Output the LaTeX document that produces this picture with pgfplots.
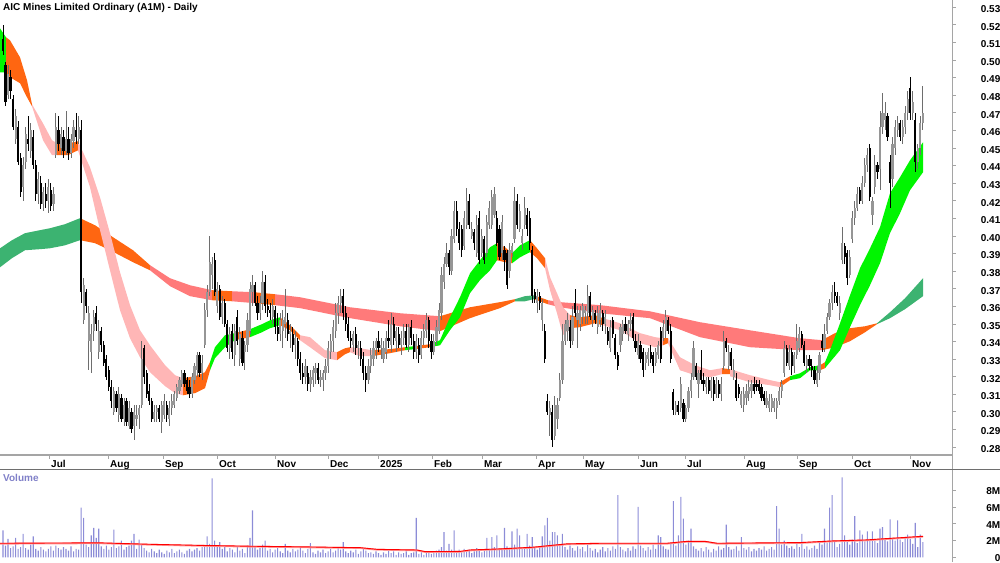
\documentclass[border=0pt]{standalone}
\usepackage{fontspec}
\setmainfont{Liberation Sans}
\usepackage{pgfplots}
\usepackage{pgfplotstable}
\pgfplotsset{compat=1.18}
\definecolor{cLG}{RGB}{60,179,113}
\definecolor{cSG}{RGB}{0,245,0}
\definecolor{cOR}{RGB}{255,102,17}
\definecolor{cPK}{RGB}{255,182,182}
\definecolor{cSA}{RGB}{255,122,122}
\definecolor{upbody}{RGB}{150,150,150}
\definecolor{upwick}{RGB}{110,110,110}
\definecolor{volc}{RGB}{140,140,215}
\definecolor{axc}{RGB}{165,165,165}
\definecolor{vlab}{RGB}{128,128,200}

\pgfplotstableread{
o h l c v
0.512 0.520 0.503 0.505 3.2
0.497 0.499 0.474 0.476 1.4
0.480 0.497 0.478 0.492 2.2
0.490 0.494 0.478 0.482 1.1
0.478 0.480 0.460 0.462 1.3
0.455 0.472 0.452 0.468 2.3
0.462 0.465 0.440 0.442 1.0
0.444 0.447 0.422 0.425 1.2
0.428 0.445 0.420 0.440 2.8
0.442 0.462 0.438 0.458 1.1
0.455 0.468 0.448 0.452 0.9
0.448 0.464 0.444 0.460 1.5
0.456 0.460 0.438 0.440 2.5
0.440 0.443 0.420 0.424 1.0
0.424 0.436 0.418 0.432 0.8
0.430 0.434 0.415 0.418 1.2
0.418 0.428 0.414 0.425 0.9
0.424 0.430 0.416 0.420 0.7
0.420 0.432 0.413 0.428 1.0
0.426 0.430 0.414 0.417 1.3
0.418 0.428 0.414 0.424 0.8
0.446 0.470 0.444 0.462 1.4
0.460 0.468 0.448 0.452 1.1
0.450 0.462 0.446 0.458 0.9
0.456 0.460 0.444 0.448 1.2
0.448 0.471 0.446 0.455 1.0
0.455 0.462 0.443 0.447 0.8
0.447 0.458 0.444 0.455 1.3
0.454 0.466 0.450 0.462 0.7
0.460 0.470 0.452 0.456 1.0
0.455 0.468 0.452 0.462 0.9
0.460 0.466 0.362 0.368 5.9
0.352 0.376 0.350 0.372 4.7
0.368 0.370 0.356 0.360 1.5
0.340 0.360 0.324 0.356 1.2
0.334 0.350 0.322 0.344 2.6
0.346 0.358 0.340 0.354 3.5
0.356 0.360 0.346 0.350 2.3
0.334 0.352 0.330 0.346 3.4
0.346 0.348 0.334 0.338 1.3
0.338 0.340 0.326 0.328 1.0
0.330 0.332 0.318 0.320 1.4
0.324 0.326 0.312 0.314 0.9
0.314 0.318 0.302 0.306 1.2
0.300 0.314 0.298 0.312 3.3
0.310 0.312 0.300 0.302 1.1
0.298 0.314 0.294 0.310 1.3
0.308 0.310 0.294 0.296 2.0
0.296 0.308 0.292 0.304 0.9
0.306 0.308 0.292 0.294 1.2
0.292 0.306 0.290 0.302 1.4
0.300 0.302 0.288 0.290 2.0
0.292 0.304 0.284 0.300 2.8
0.296 0.304 0.292 0.298 1.0
0.298 0.304 0.290 0.302 2.1
0.304 0.340 0.302 0.330 1.5
0.336 0.338 0.316 0.320 1.1
0.322 0.324 0.308 0.310 0.8
0.312 0.316 0.304 0.306 0.6
0.306 0.308 0.294 0.296 1.0
0.296 0.304 0.294 0.300 0.7
0.300 0.304 0.294 0.302 0.5
0.302 0.304 0.294 0.296 0.9
0.294 0.306 0.288 0.304 0.6
0.298 0.310 0.296 0.306 0.4
0.304 0.306 0.294 0.298 0.8
0.296 0.306 0.292 0.302 0.6
0.302 0.310 0.298 0.306 1.0
0.304 0.312 0.302 0.310 0.5
0.308 0.316 0.306 0.314 0.7
0.312 0.320 0.310 0.318 0.9
0.316 0.324 0.314 0.322 0.6
0.322 0.324 0.314 0.316 0.4
0.318 0.320 0.310 0.312 0.8
0.314 0.318 0.308 0.310 1.0
0.310 0.322 0.308 0.320 0.7
0.318 0.328 0.316 0.326 0.9
0.324 0.334 0.320 0.332 1.1
0.332 0.334 0.320 0.322 0.8
0.322 0.332 0.318 0.328 1.2
0.338 0.362 0.336 0.358 1.3
0.358 0.372 0.354 0.368 2.5
0.368 0.400 0.366 0.385 1.6
0.378 0.388 0.370 0.384 9.4
0.386 0.390 0.366 0.368 2.0
0.360 0.374 0.356 0.370 1.4
0.370 0.372 0.352 0.354 1.8
0.354 0.366 0.350 0.362 1.0
0.362 0.364 0.348 0.350 1.3
0.350 0.352 0.334 0.336 0.7
0.336 0.348 0.330 0.344 1.1
0.346 0.350 0.330 0.334 0.9
0.332 0.350 0.326 0.346 0.6
0.354 0.358 0.338 0.340 1.2
0.330 0.348 0.326 0.344 0.8
0.342 0.346 0.326 0.328 1.0
0.334 0.340 0.324 0.338 0.5
0.338 0.356 0.334 0.352 1.4
0.346 0.374 0.344 0.370 2.3
0.368 0.378 0.360 0.372 5.6
0.372 0.374 0.360 0.362 1.2
0.362 0.366 0.352 0.356 0.9
0.356 0.366 0.352 0.362 1.1
0.362 0.380 0.358 0.374 1.5
0.374 0.378 0.356 0.360 2.0
0.360 0.364 0.354 0.358 0.8
0.358 0.362 0.352 0.356 1.0
0.354 0.364 0.350 0.360 0.6
0.358 0.360 0.344 0.348 0.9
0.348 0.356 0.340 0.344 1.1
0.344 0.356 0.340 0.352 0.7
0.346 0.358 0.336 0.352 0.5
0.350 0.370 0.342 0.354 1.6
0.352 0.356 0.340 0.344 0.8
0.344 0.350 0.336 0.346 0.6
0.344 0.348 0.334 0.338 1.0
0.338 0.346 0.330 0.342 0.7
0.340 0.342 0.326 0.330 0.9
0.330 0.334 0.318 0.322 1.2
0.322 0.328 0.316 0.320 0.8
0.320 0.330 0.316 0.326 0.5
0.322 0.326 0.312 0.316 1.0
0.316 0.324 0.311 0.320 1.7
0.318 0.326 0.314 0.324 0.6
0.322 0.328 0.316 0.325 0.4
0.325 0.328 0.316 0.318 0.8
0.318 0.324 0.314 0.320 0.6
0.318 0.324 0.312 0.322 0.9
0.322 0.330 0.318 0.326 0.5
0.326 0.340 0.322 0.336 0.7
0.334 0.344 0.330 0.340 1.0
0.340 0.352 0.334 0.348 0.6
0.346 0.362 0.342 0.356 0.8
0.356 0.366 0.350 0.362 1.1
0.362 0.370 0.356 0.366 0.9
0.366 0.370 0.352 0.356 1.8
0.356 0.360 0.346 0.350 0.7
0.350 0.354 0.340 0.342 0.5
0.342 0.346 0.336 0.340 0.8
0.338 0.346 0.334 0.344 0.6
0.344 0.348 0.332 0.336 0.9
0.336 0.340 0.330 0.338 0.4
0.336 0.340 0.326 0.330 0.7
0.330 0.334 0.318 0.322 1.0
0.322 0.326 0.311 0.318 0.8
0.318 0.330 0.316 0.326 0.5
0.326 0.336 0.322 0.332 0.6
0.330 0.340 0.326 0.336 0.4
0.336 0.342 0.330 0.340 0.7
0.340 0.346 0.334 0.336 0.5
0.336 0.342 0.330 0.338 0.3
0.330 0.340 0.328 0.336 0.6
0.334 0.346 0.330 0.342 0.4
0.342 0.352 0.336 0.340 0.8
0.338 0.356 0.334 0.350 0.5
0.350 0.354 0.338 0.342 0.7
0.340 0.348 0.334 0.346 0.3
0.344 0.348 0.336 0.338 0.6
0.338 0.346 0.332 0.342 0.4
0.342 0.350 0.338 0.346 0.5
0.346 0.350 0.336 0.338 0.7
0.338 0.350 0.334 0.348 0.3
0.348 0.352 0.338 0.342 0.5
0.340 0.344 0.330 0.334 0.6
0.334 0.344 0.330 0.340 4.7
0.338 0.342 0.328 0.332 0.4
0.332 0.346 0.330 0.342 0.6
0.342 0.350 0.338 0.346 0.3
0.346 0.356 0.342 0.352 0.5
0.352 0.354 0.336 0.340 0.7
0.340 0.344 0.330 0.334 0.4
0.334 0.344 0.332 0.340 0.6
0.340 0.352 0.338 0.348 0.8
0.346 0.362 0.344 0.358 0.9
0.356 0.382 0.352 0.378 1.2
0.374 0.388 0.370 0.384 3.0
0.384 0.396 0.382 0.390 0.8
0.390 0.392 0.378 0.382 1.6
0.380 0.404 0.378 0.400 0.9
0.398 0.420 0.396 0.414 3.2
0.414 0.420 0.400 0.404 0.7
0.404 0.408 0.392 0.396 0.9
0.404 0.406 0.388 0.392 0.6
0.394 0.414 0.392 0.410 1.0
0.406 0.427 0.404 0.420 0.8
0.420 0.424 0.404 0.406 0.9
0.400 0.408 0.398 0.404 0.5
0.402 0.404 0.392 0.396 0.7
0.390 0.412 0.388 0.406 1.1
0.410 0.414 0.384 0.386 0.9
0.390 0.404 0.388 0.400 0.6
0.398 0.400 0.384 0.386 0.8
0.390 0.412 0.388 0.408 2.3
0.406 0.420 0.404 0.416 1.0
0.406 0.426 0.404 0.422 2.4
0.412 0.428 0.410 0.424 1.2
0.410 0.414 0.394 0.396 2.6
0.404 0.406 0.386 0.388 0.9
0.390 0.412 0.386 0.408 1.1
0.392 0.394 0.380 0.386 3.5
0.390 0.392 0.370 0.372 1.3
0.380 0.396 0.376 0.392 1.0
0.390 0.396 0.388 0.394 3.1
0.398 0.428 0.396 0.420 1.5
0.420 0.424 0.404 0.406 3.4
0.404 0.418 0.402 0.414 2.6
0.396 0.404 0.392 0.400 1.2
0.406 0.422 0.404 0.416 1.0
0.412 0.416 0.400 0.404 2.8
0.410 0.414 0.392 0.396 1.4
0.392 0.394 0.362 0.366 2.4
0.368 0.370 0.362 0.364 1.1
0.362 0.370 0.356 0.366 0.9
0.366 0.368 0.358 0.362 1.3
0.352 0.364 0.346 0.362 2.5
0.346 0.350 0.328 0.330 3.8
0.306 0.310 0.298 0.300 4.7
0.298 0.306 0.286 0.302 2.0
0.300 0.304 0.280 0.284 3.0
0.286 0.309 0.284 0.304 3.0
0.296 0.308 0.290 0.304 2.6
0.308 0.322 0.306 0.318 1.5
0.318 0.350 0.316 0.340 2.8
0.340 0.352 0.338 0.350 1.2
0.346 0.356 0.340 0.352 0.9
0.348 0.352 0.336 0.340 1.4
0.340 0.360 0.338 0.354 1.1
0.362 0.370 0.354 0.356 0.8
0.352 0.360 0.336 0.356 1.3
0.350 0.360 0.346 0.358 1.0
0.354 0.362 0.350 0.360 1.2
0.356 0.360 0.350 0.358 0.7
0.356 0.372 0.350 0.366 1.5
0.366 0.368 0.352 0.354 1.1
0.352 0.360 0.348 0.358 0.8
0.356 0.358 0.350 0.352 1.0
0.348 0.360 0.344 0.356 0.6
0.352 0.362 0.348 0.358 0.9
0.356 0.358 0.346 0.350 1.2
0.350 0.358 0.344 0.354 0.7
0.346 0.348 0.338 0.340 1.1
0.336 0.352 0.334 0.348 0.8
0.352 0.354 0.342 0.344 1.3
0.342 0.344 0.330 0.332 1.0
0.332 0.334 0.324 0.326 7.4
0.338 0.350 0.334 0.348 1.2
0.344 0.352 0.340 0.350 0.9
0.350 0.354 0.344 0.346 0.7
0.344 0.352 0.340 0.350 1.1
0.350 0.356 0.346 0.352 0.8
0.354 0.356 0.340 0.342 1.3
0.340 0.344 0.334 0.336 1.0
0.332 0.344 0.330 0.340 6.0
0.338 0.340 0.328 0.330 1.4
0.334 0.336 0.320 0.324 1.1
0.328 0.334 0.324 0.332 0.8
0.330 0.336 0.326 0.334 1.2
0.334 0.338 0.328 0.330 0.9
0.332 0.334 0.322 0.326 1.5
0.328 0.336 0.326 0.334 1.0
0.332 0.340 0.330 0.338 2.6
0.346 0.348 0.328 0.330 2.4
0.342 0.352 0.340 0.348 1.3
0.346 0.358 0.342 0.354 1.0
0.352 0.354 0.344 0.346 0.9
0.346 0.350 0.328 0.330 1.6
0.311 0.313 0.298 0.301 6.7
0.300 0.306 0.298 0.304 1.4
0.304 0.306 0.298 0.300 2.6
0.302 0.320 0.300 0.316 7.2
0.305 0.307 0.294 0.296 4.6
0.296 0.304 0.294 0.302 1.5
0.302 0.314 0.300 0.312 2.0
0.312 0.322 0.308 0.318 3.4
0.320 0.340 0.318 0.336 1.3
0.326 0.328 0.318 0.320 1.0
0.316 0.324 0.308 0.322 0.8
0.324 0.335 0.316 0.318 1.1
0.318 0.322 0.312 0.316 0.7
0.314 0.320 0.310 0.318 1.2
0.318 0.320 0.310 0.312 0.9
0.312 0.320 0.308 0.318 0.6
0.318 0.320 0.306 0.310 1.0
0.310 0.320 0.308 0.316 0.8
0.316 0.318 0.308 0.310 1.3
0.310 0.320 0.306 0.316 0.9
0.326 0.346 0.324 0.340 1.1
0.340 0.342 0.334 0.336 3.9
0.326 0.338 0.324 0.334 1.2
0.334 0.336 0.324 0.326 0.9
0.320 0.330 0.318 0.324 1.0
0.318 0.322 0.306 0.308 1.3
0.314 0.316 0.308 0.310 0.8
0.304 0.312 0.302 0.310 2.4
0.304 0.314 0.300 0.310 1.1
0.308 0.316 0.304 0.312 0.9
0.310 0.318 0.306 0.314 1.2
0.312 0.318 0.308 0.316 0.7
0.316 0.320 0.310 0.312 1.0
0.316 0.318 0.312 0.314 0.8
0.316 0.318 0.310 0.312 1.1
0.314 0.316 0.306 0.308 0.9
0.310 0.312 0.304 0.306 1.3
0.304 0.312 0.302 0.308 0.8
0.302 0.310 0.300 0.306 1.0
0.302 0.310 0.300 0.308 1.2
0.302 0.308 0.300 0.306 0.9
0.302 0.308 0.296 0.306 6.1
0.306 0.314 0.304 0.312 3.4
0.312 0.318 0.308 0.316 1.5
0.322 0.340 0.320 0.336 2.0
0.336 0.338 0.326 0.328 1.4
0.326 0.338 0.324 0.334 1.1
0.334 0.336 0.321 0.326 1.3
0.326 0.334 0.322 0.332 1.0
0.332 0.350 0.330 0.340 1.6
0.336 0.348 0.334 0.344 1.2
0.344 0.346 0.336 0.338 2.8
0.338 0.340 0.326 0.328 1.0
0.326 0.332 0.322 0.330 1.3
0.330 0.332 0.324 0.326 0.9
0.326 0.330 0.320 0.324 1.1
0.324 0.326 0.316 0.318 1.4
0.316 0.326 0.314 0.322 1.0
0.322 0.334 0.318 0.332 1.8
0.340 0.344 0.334 0.336 1.5
0.336 0.350 0.334 0.344 3.4
0.346 0.356 0.344 0.354 1.7
0.354 0.364 0.352 0.362 5.9
0.362 0.372 0.358 0.368 7.4
0.368 0.374 0.362 0.366 1.9
0.366 0.368 0.360 0.362 1.2
0.356 0.366 0.352 0.362 1.6
0.386 0.405 0.384 0.396 9.5
0.394 0.396 0.384 0.388 2.6
0.390 0.392 0.372 0.376 1.8
0.378 0.392 0.376 0.388 1.5
0.398 0.414 0.396 0.410 2.1
0.410 0.420 0.406 0.416 4.9
0.416 0.428 0.414 0.424 1.7
0.426 0.428 0.418 0.420 3.2
0.420 0.434 0.418 0.430 2.7
0.430 0.444 0.428 0.440 1.9
0.440 0.450 0.436 0.446 3.1
0.450 0.452 0.420 0.422 2.2
0.412 0.422 0.406 0.420 3.1
0.428 0.446 0.424 0.440 2.0
0.440 0.442 0.432 0.436 1.7
0.438 0.471 0.426 0.462 3.4
0.462 0.481 0.458 0.470 3.6
0.466 0.476 0.460 0.470 2.2
0.468 0.470 0.454 0.456 1.9
0.442 0.446 0.416 0.430 4.5
0.432 0.456 0.428 0.452 2.3
0.450 0.466 0.446 0.462 2.0
0.460 0.468 0.456 0.464 4.4
0.464 0.466 0.454 0.456 2.1
0.456 0.466 0.452 0.462 1.8
0.462 0.474 0.458 0.470 2.4
0.470 0.482 0.466 0.478 2.7
0.484 0.490 0.466 0.470 2.2
0.470 0.482 0.466 0.476 1.6
0.466 0.470 0.436 0.442 4.1
0.442 0.452 0.438 0.450 1.2
0.450 0.468 0.446 0.464 2.7
0.464 0.485 0.460 0.470 1.8
}\pricedata

\pgfplotsset{
  candle/.style n args={2}{draw=none, mark=none, forget plot, restrict y to domain=0:1,
    error bars/.cd, y dir=both, y explicit, error mark=none,
    error bar style={line width=#1, draw=#2, solid}},
}

\begin{document}
\begin{tikzpicture}
\useasboundingbox (0pt,0pt) rectangle (1000pt,-562pt);
\begin{axis}[
  at={(0pt,0pt)}, anchor=north west,
  scale only axis, width=952pt, height=455pt,
  xmin=0, xmax=952, ymin=0.27545, ymax=0.53398,
  axis x line*=bottom, axis y line*=right,
  x axis line style={draw=axc, line width=1.6pt},
  y axis line style={draw=axc, line width=0.8pt},
  tick align=outside, major tick length=3.5pt,
  tick style={draw=axc, line width=0.6pt},
  xtick={49,108,163,217,275,328,378,432,482,536,583,638,685,744,797,852,910},
  xticklabels={Jul,Aug,Sep,Oct,Nov,Dec,2025,Feb,Mar,Apr,May,Jun,Jul,Aug,Sep,Oct,Nov},
  ytick={0.28,0.29,0.30,0.31,0.32,0.33,0.34,0.35,0.36,0.37,0.38,0.39,0.40,0.41,0.42,0.43,0.44,0.45,0.46,0.47,0.48,0.49,0.50,0.51,0.52,0.53},
  yticklabels={0.28,0.29,0.30,0.31,0.32,0.33,0.34,0.35,0.36,0.37,0.38,0.39,0.40,0.41,0.42,0.43,0.44,0.45,0.46,0.47,0.48,0.49,0.50,0.51,0.52,0.53},
  tick label style={font=\bfseries\fontsize{10}{12}\selectfont, text=black, inner sep=0pt},
  yticklabel style={anchor=east, xshift=45pt, yshift=-2pt},
  xticklabel style={anchor=north west, xshift=2pt, yshift=-2pt},
  clip=true,
]
% long ribbon
\addplot[draw=none, fill=cLG] coordinates {(0,0.3929) (12,0.3975) (25,0.4015) (40,0.4032) (50,0.4043) (65,0.4066) (80,0.4100) (80,0.3975) (65,0.3946) (50,0.3929) (40,0.3924) (25,0.3918) (12,0.3873) (0,0.3821)} --cycle;
\addplot[draw=none, fill=cOR] coordinates {(80,0.4100) (95,0.4060) (110,0.4003) (133,0.3918) (150,0.3833) (150,0.3804) (133,0.3850) (110,0.3918) (95,0.3958) (80,0.3975)} --cycle;
\addplot[draw=none, fill=cSA] coordinates {(150,0.3833) (170,0.3759) (190,0.3719) (212,0.3691) (212,0.3634) (190,0.3657) (170,0.3714) (150,0.3804)} --cycle;
\addplot[draw=none, fill=cOR] coordinates {(212,0.3691) (232,0.3685) (232,0.3628) (212,0.3634)} --cycle;
\addplot[draw=none, fill=cSA] coordinates {(232,0.3685) (255,0.3679) (255,0.3617) (232,0.3628)} --cycle;
\addplot[draw=none, fill=cOR] coordinates {(255,0.3679) (275,0.3668) (275,0.3606) (255,0.3617)} --cycle;
\addplot[draw=none, fill=cSA] coordinates {(275,0.3668) (300,0.3651) (350,0.3594) (400,0.3560) (440,0.3543) (440,0.3458) (400,0.3486) (350,0.3532) (300,0.3589) (275,0.3606)} --cycle;
\addplot[draw=none, fill=cOR] coordinates {(440,0.3543) (470,0.3594) (500,0.3623) (515,0.3640) (515,0.3628) (500,0.3589) (470,0.3532) (440,0.3458)} --cycle;
\addplot[draw=none, fill=cLG] coordinates {(515,0.3640) (525,0.3657) (534,0.3662) (534,0.3640) (525,0.3628) (515,0.3628)} --cycle;
\addplot[draw=none, fill=cOR] coordinates {(534,0.3662) (548,0.3634) (548,0.3611) (534,0.3640)} --cycle;
\addplot[draw=none, fill=cSA] coordinates {(548,0.3634) (560,0.3623) (600,0.3606) (650,0.3571) (700,0.3509) (750,0.3463) (800,0.3418) (822,0.3407) (822,0.3350) (800,0.3350) (750,0.3367) (700,0.3424) (650,0.3532) (600,0.3560) (560,0.3594) (548,0.3611)} --cycle;
\addplot[draw=none, fill=cOR] coordinates {(822,0.3407) (835,0.3447) (850,0.3475) (865,0.3486) (877,0.3503) (877,0.3498) (865,0.3452) (850,0.3401) (835,0.3367) (822,0.3350)} --cycle;
\addplot[draw=none, fill=cLG] coordinates {(877,0.3503) (890,0.3566) (905,0.3645) (923,0.3759) (923,0.3657) (905,0.3583) (890,0.3532) (877,0.3498)} --cycle;
% short ribbon
\addplot[draw=none, fill=cSG] coordinates {(0,0.5179) (6,0.5128) (6,0.4929) (0,0.4929)} --cycle;
\addplot[draw=none, fill=cOR] coordinates {(6,0.5128) (10,0.5111) (20,0.5014) (27,0.4884) (32,0.4747) (32,0.4736) (27,0.4787) (20,0.4867) (10,0.4901) (6,0.4929)} --cycle;
\addplot[draw=none, fill=cPK] coordinates {(32,0.4747) (43,0.4639) (52,0.4543) (57,0.4526) (57,0.4458) (52,0.4458) (43,0.4543) (32,0.4736)} --cycle;
\addplot[draw=none, fill=cOR] coordinates {(57,0.4526) (68,0.4526) (78,0.4537) (78,0.4486) (68,0.4458) (57,0.4458)} --cycle;
\addplot[draw=none, fill=cPK] coordinates {(78,0.4537) (90,0.4389) (100,0.4219) (110,0.4015) (120,0.3793) (130,0.3606) (140,0.3464) (150,0.3378) (165,0.3265) (175,0.3208) (183,0.3191) (183,0.3094) (175,0.3106) (165,0.3146) (150,0.3225) (140,0.3310) (130,0.3418) (120,0.3577) (110,0.3804) (100,0.4032) (90,0.4276) (78,0.4486)} --cycle;
\addplot[draw=none, fill=cOR] coordinates {(183,0.3191) (195,0.3202) (205,0.3225) (210,0.3282) (210,0.3236) (205,0.3134) (195,0.3106) (183,0.3094)} --cycle;
\addplot[draw=none, fill=cSG] coordinates {(210,0.3282) (215,0.3367) (225,0.3435) (235,0.3447) (235,0.3407) (225,0.3367) (215,0.3305) (210,0.3236)} --cycle;
\addplot[draw=none, fill=cOR] coordinates {(235,0.3447) (250,0.3469) (250,0.3424) (235,0.3407)} --cycle;
\addplot[draw=none, fill=cSG] coordinates {(250,0.3469) (262,0.3498) (270,0.3520) (280,0.3537) (280,0.3492) (270,0.3475) (262,0.3452) (250,0.3424)} --cycle;
\addplot[draw=none, fill=cOR] coordinates {(280,0.3537) (290,0.3492) (300,0.3435) (300,0.3407) (290,0.3464) (280,0.3492)} --cycle;
\addplot[draw=none, fill=cPK] coordinates {(300,0.3435) (310,0.3424) (325,0.3350) (337,0.3339) (337,0.3293) (325,0.3305) (310,0.3367) (300,0.3407)} --cycle;
\addplot[draw=none, fill=cOR] coordinates {(337,0.3339) (345,0.3361) (350,0.3367) (350,0.3339) (345,0.3327) (337,0.3293)} --cycle;
\addplot[draw=none, fill=cPK] coordinates {(350,0.3367) (360,0.3361) (372,0.3350) (372,0.3316) (360,0.3316) (350,0.3339)} --cycle;
\addplot[draw=none, fill=cOR] coordinates {(372,0.3350) (390,0.3356) (405,0.3367) (405,0.3350) (390,0.3333) (372,0.3316)} --cycle;
\addplot[draw=none, fill=cSG] coordinates {(405,0.3367) (415,0.3373) (415,0.3356) (405,0.3350)} --cycle;
\addplot[draw=none, fill=cOR] coordinates {(415,0.3373) (430,0.3384) (430,0.3367) (415,0.3356)} --cycle;
\addplot[draw=none, fill=cSG] coordinates {(430,0.3384) (440,0.3407) (450,0.3537) (460,0.3651) (470,0.3787) (480,0.3861) (490,0.3935) (497,0.3958) (497,0.3861) (490,0.3804) (480,0.3748) (470,0.3674) (460,0.3537) (450,0.3464) (440,0.3378) (430,0.3367)} --cycle;
\addplot[draw=none, fill=cOR] coordinates {(497,0.3958) (505,0.3935) (512,0.3901) (512,0.3844) (505,0.3850) (497,0.3861)} --cycle;
\addplot[draw=none, fill=cSG] coordinates {(512,0.3901) (520,0.3946) (530,0.3975) (530,0.3907) (520,0.3878) (512,0.3844)} --cycle;
\addplot[draw=none, fill=cOR] coordinates {(530,0.3975) (537,0.3929) (545,0.3873) (545,0.3816) (537,0.3873) (530,0.3907)} --cycle;
\addplot[draw=none, fill=cPK] coordinates {(545,0.3873) (550,0.3765) (557,0.3674) (563,0.3594) (570,0.3549) (570,0.3475) (563,0.3435) (557,0.3560) (550,0.3691) (545,0.3816)} --cycle;
\addplot[draw=none, fill=cOR] coordinates {(570,0.3549) (580,0.3537) (595,0.3549) (603,0.3532) (603,0.3492) (595,0.3503) (580,0.3481) (570,0.3475)} --cycle;
\addplot[draw=none, fill=cPK] coordinates {(603,0.3532) (620,0.3503) (640,0.3447) (655,0.3424) (663,0.3418) (663,0.3378) (655,0.3367) (640,0.3390) (620,0.3464) (603,0.3492)} --cycle;
\addplot[draw=none, fill=cOR] coordinates {(663,0.3418) (668,0.3418) (668,0.3390) (663,0.3378)} --cycle;
\addplot[draw=none, fill=cPK] coordinates {(668,0.3418) (680,0.3310) (695,0.3265) (710,0.3236) (722,0.3248) (722,0.3214) (710,0.3197) (695,0.3208) (680,0.3236) (668,0.3390)} --cycle;
\addplot[draw=none, fill=cOR] coordinates {(722,0.3248) (730,0.3242) (730,0.3214) (722,0.3214)} --cycle;
\addplot[draw=none, fill=cPK] coordinates {(730,0.3242) (750,0.3208) (770,0.3180) (780,0.3168) (780,0.3140) (770,0.3151) (750,0.3168) (730,0.3202)} --cycle;
\addplot[draw=none, fill=cOR] coordinates {(780,0.3168) (790,0.3202) (790,0.3180) (780,0.3140)} --cycle;
\addplot[draw=none, fill=cSG] coordinates {(790,0.3202) (800,0.3219) (810,0.3253) (820,0.3265) (820,0.3236) (810,0.3236) (800,0.3191) (790,0.3180)} --cycle;
\addplot[draw=none, fill=cOR] coordinates {(820,0.3265) (825,0.3282) (825,0.3248) (820,0.3236)} --cycle;
\addplot[draw=none, fill=cSG] coordinates {(825,0.3282) (830,0.3350) (840,0.3503) (850,0.3662) (860,0.3816) (870,0.3929) (880,0.4049) (890,0.4242) (900,0.4333) (910,0.4429) (923,0.4531) (923,0.4361) (910,0.4259) (900,0.4128) (890,0.4015) (880,0.3844) (870,0.3719) (860,0.3606) (850,0.3481) (840,0.3350) (830,0.3282) (825,0.3248)} --cycle;
% candles: wicks
\addplot[candle={0.9pt}{upwick}]
  table[x expr=3+2.52*\coordindex,
        y expr={\thisrow{c}>=\thisrow{o} ? 0.5*(\thisrow{h}+\thisrow{l}) : -5},
        y error expr={0.5*(\thisrow{h}-\thisrow{l})}] {\pricedata};
\addplot[candle={0.9pt}{black}]
  table[x expr=3+2.52*\coordindex,
        y expr={\thisrow{c}<\thisrow{o} ? 0.5*(\thisrow{h}+\thisrow{l}) : -5},
        y error expr={0.5*(\thisrow{h}-\thisrow{l})}] {\pricedata};
% candles: bodies
\addplot[candle={2.2pt}{upbody}]
  table[x expr=3+2.52*\coordindex,
        y expr={\thisrow{c}>=\thisrow{o} ? 0.5*(\thisrow{o}+\thisrow{c}) : -5},
        y error expr={max(0.5*abs(\thisrow{c}-\thisrow{o}),0.0004)}] {\pricedata};
\addplot[candle={2.2pt}{black}]
  table[x expr=3+2.52*\coordindex,
        y expr={\thisrow{c}<\thisrow{o} ? 0.5*(\thisrow{o}+\thisrow{c}) : -5},
        y error expr={max(0.5*abs(\thisrow{c}-\thisrow{o}),0.0004)}] {\pricedata};
\end{axis}

\begin{axis}[
  at={(0pt,-469pt)}, anchor=north west,
  scale only axis, width=952pt, height=93pt,
  xmin=0, xmax=952, ymin=-0.56, ymax=10.51,
  axis x line=none, axis y line*=right,
  y axis line style={draw=axc, line width=0.8pt},
  tick align=outside, major tick length=3.5pt,
  tick style={draw=axc, line width=0.6pt},
  ytick={0,2,4,6,8}, yticklabels={0,2M,4M,6M,8M},
  tick label style={font=\bfseries\fontsize{10}{12}\selectfont, text=black, inner sep=0pt},
  yticklabel style={anchor=east, xshift=45pt, yshift=-1pt},
  clip=true,
]
\addplot[ybar, bar width=1.1pt, draw=none, fill=volc] table[x expr=3+2.52*\coordindex, y=v] {\pricedata};
\addplot[draw={rgb,255:red,255;green,150;blue,150}, line width=1.8pt] coordinates {(0,1.62) (50,1.65) (100,1.67) (150,1.5) (200,1.37) (250,1.27) (300,1.2) (333,1.14) (360,1.1) (377,0.9) (417,0.82) (425,0.63) (460,0.65) (470,0.82) (500,0.95) (533,1.15) (567,1.55) (600,1.62) (667,1.62) (687,1.85) (705,1.85) (717,1.62) (767,1.67) (800,1.7) (833,1.9) (867,2.02) (883,2.15) (923,2.45)};
\addplot[draw=red, line width=0.9pt] coordinates {(0,1.67) (50,1.7) (100,1.72) (150,1.55) (200,1.42) (250,1.32) (300,1.25) (333,1.19) (360,1.15) (377,0.95) (417,0.87) (425,0.68) (460,0.7) (470,0.87) (500,1.0) (533,1.2) (567,1.6) (600,1.67) (667,1.67) (687,1.9) (705,1.9) (717,1.67) (767,1.72) (800,1.75) (833,1.95) (867,2.07) (883,2.2) (923,2.5)};
\end{axis}

\draw[draw={rgb,255:red,110;green,110;blue,110}, line width=1pt] (0pt,-469pt) -- (1000pt,-469pt);
\draw[draw=axc, line width=0.8pt] (952pt,-455pt) -- (952pt,-469pt);
\node[anchor=west, inner sep=0pt, font=\bfseries\fontsize{10}{12}\selectfont] at (3pt,-8pt) {AIC Mines Limited Ordinary (A1M) - Daily};
\node[anchor=west, inner sep=0pt, text=vlab, font=\bfseries\fontsize{10}{12}\selectfont] at (3pt,-478pt) {Volume};
\end{tikzpicture}
\end{document}
